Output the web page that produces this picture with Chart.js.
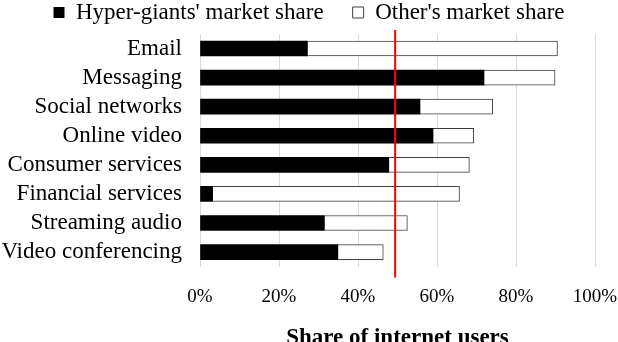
<!DOCTYPE html>
<html>
<head>
<meta charset="utf-8">
<script src="https://cdn.jsdelivr.net/npm/chart.js@4"></script>
<style>
  html, body { margin: 0; padding: 0; background: #fff; overflow: hidden; }
  #wrap { position: relative; width: 618px; height: 352px; }
</style>
</head>
<body>
<div id="wrap"><canvas id="chart"></canvas></div>
<script>
const categories = ['Email', 'Messaging', 'Social networks', 'Online video', 'Consumer services',
  'Financial services', 'Streaming audio', 'Video conferencing'];
// hyper-giants share and total share, % of internet users
const hyperGiants = [27.2, 71.9, 55.7, 59.0, 47.8, 3.2, 31.5, 34.9];
const totalShare  = [90.5, 89.9, 74.1, 69.3, 68.2, 65.7, 52.5, 46.4];
const others = totalShare.map((t, i) => +(t - hyperGiants[i]).toFixed(1));
const xTicks = [0, 20, 40, 60, 80, 100];
const markerValue = 49.4;

const FONT = "'Liberation Serif', 'DejaVu Serif', serif";

// red reference line
const markerLine = {
  id: 'markerLine',
  afterDatasetsDraw(chart) {
    const { ctx, chartArea, scales } = chart;
    const x = scales.x.getPixelForValue(markerValue);
    ctx.save();
    ctx.strokeStyle = '#ff0000';
    ctx.lineWidth = 2;
    ctx.beginPath();
    ctx.moveTo(x, chartArea.top - 4);
    ctx.lineTo(x, chartArea.bottom + 11);
    ctx.stroke();
    ctx.restore();
  }
};

new Chart(document.getElementById('chart'), {
  type: 'bar',
  data: {
    labels: categories,
    datasets: [
      {
        label: "Hyper-giants' market share",
        data: hyperGiants,
        backgroundColor: '#000000',
        borderColor: '#000000',
        borderWidth: 0,
        barThickness: 15
      },
      {
        label: "Other's market share",
        data: others,
        backgroundColor: '#ffffff',
        borderColor: '#404040',
        borderWidth: 1,
        barThickness: 15
      }
    ]
  },
  options: {
    indexAxis: 'y',
    responsive: true,
    maintainAspectRatio: false,
    animation: false,
    layout: { padding: { left: 0, right: 0, top: -28, bottom: 0 } },
    plugins: {
      legend: {
        position: 'top',
        labels: {
          font: { family: FONT, size: 23 },
          color: '#000',
          boxWidth: 11,
          boxHeight: 11,
          padding: 29
        }
      },
      tooltip: { enabled: false }
    },
    scales: {
      x: {
        stacked: true,
        min: 0,
        max: 100,
        afterBuildTicks: s => { s.ticks = xTicks.map(v => ({ value: v })); },
        afterFit: s => { s.paddingRight = 23; },
        ticks: {
          callback: v => v + '%',
          font: { family: FONT, size: 19 },
          color: '#000',
          padding: 19
        },
        grid: { color: '#d9d9d9', drawTicks: false },
        border: { display: false },
        title: {
          display: true,
          text: 'Share of internet users',
          font: { family: FONT, size: 23, weight: 'bold' },
          color: '#000',
          padding: { top: -3, bottom: 0 }
        }
      },
      y: {
        stacked: true,
        afterFit: s => { s.width = 200; },
        ticks: {
          autoSkip: false,
          font: { family: FONT, size: 23 },
          color: '#000',
          padding: 10
        },
        grid: { display: false },
        border: { display: false }
      }
    }
  },
  plugins: [markerLine]
});
</script>
</body>
</html>
